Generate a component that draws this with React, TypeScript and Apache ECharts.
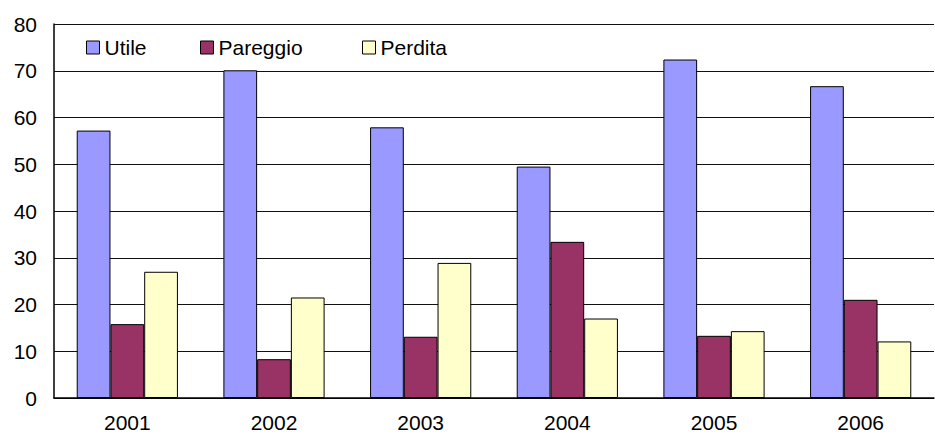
import React, { useEffect, useRef } from "react";
import * as echarts from "echarts";

const categories = ["2001", "2002", "2003", "2004", "2005", "2006"];
const utile = [57.2, 70.1, 57.9, 49.5, 72.4, 66.7];
const pareggio = [15.8, 8.3, 13.1, 33.4, 13.3, 21.0];
const perdita = [27.0, 21.5, 28.9, 17.0, 14.3, 12.1];
const seriesNames = ["Utile", "Pareggio", "Perdita"];
const seriesColors = ["#9999FF", "#993366", "#FFFFCC"];

const FONT = "Liberation Sans";

export default function App() {
  const ref = useRef<HTMLDivElement>(null);
  useEffect(() => {
    if (!ref.current) return;
    const chart = echarts.init(ref.current, null, { renderer: "svg" });
    const values = [utile, pareggio, perdita];
    const legendLefts = [86, 200, 362];
    chart.setOption({
      animation: false,
      backgroundColor: "#fff",
      grid: { left: 54, top: 24, right: 1, bottom: 41, containLabel: false },
      legend: seriesNames.map((n, i) => ({
        data: [n],
        left: legendLefts[i],
        top: 37,
        padding: 0,
        icon: "rect",
        itemWidth: 13,
        itemHeight: 13,
        itemGap: 0,
        selectedMode: false,
        itemStyle: { borderColor: "#000", borderWidth: 1 },
        textStyle: { fontFamily: FONT, fontSize: 21, color: "#000" },
      })),
      xAxis: {
        type: "category",
        data: categories,
        axisLine: { show: true, lineStyle: { color: "#000", width: 1.5 } },
        axisTick: { show: false },
        axisLabel: { fontFamily: FONT, fontSize: 21, color: "#000", margin: 14 },
        splitLine: { show: false },
      },
      yAxis: {
        type: "value",
        min: 0,
        max: 80,
        interval: 10,
        axisLine: { show: true, lineStyle: { color: "#000", width: 1.5 } },
        axisTick: { show: false },
        axisLabel: { fontFamily: FONT, fontSize: 21, color: "#000", margin: 17 },
        splitLine: { show: true, lineStyle: { color: "#111", width: 1.2 } },
      },
      series: seriesNames.map((n, i) => ({
        name: n,
        type: "bar",
        data: values[i],
        barGap: "0%",
        barCategoryGap: "31%",
        itemStyle: { color: seriesColors[i], borderColor: "#000", borderWidth: 1 },
      })),
    });
    return () => chart.dispose();
  }, []);
  return (
    <div
      ref={ref}
      style={{ position: "absolute", left: 0, top: 0, width: 935, height: 439 }}
    />
  );
}
